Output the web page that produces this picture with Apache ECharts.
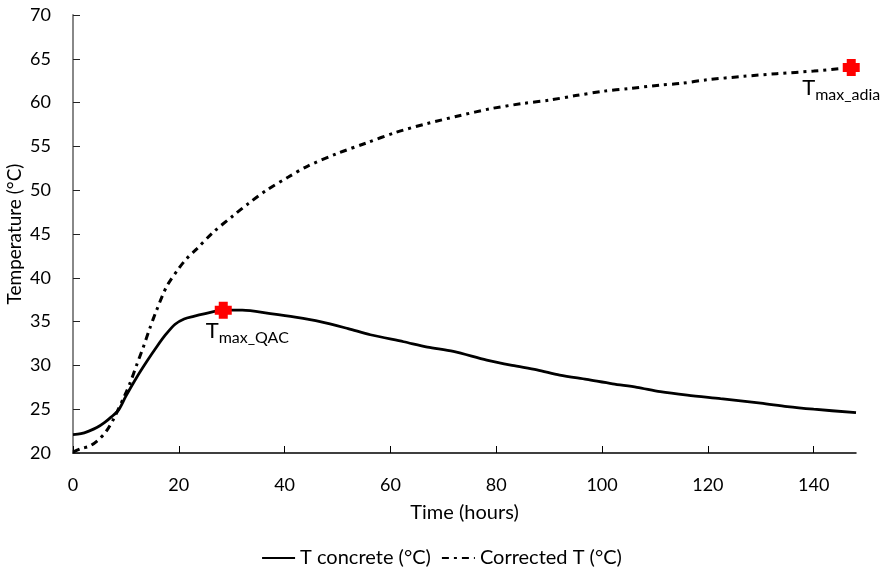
<!DOCTYPE html>
<html>
<head>
<meta charset="utf-8">
<script src="https://cdn.jsdelivr.net/npm/echarts@6/dist/echarts.min.js"></script>
<style>
  html, body { margin: 0; padding: 0; background: #fff; }
  #chart { width: 883px; height: 573px; }
</style>
</head>
<body>
<div id="chart"></div>
<script>
// Measured concrete temperature (hours, °C)
const concreteHours = [0, 1.5, 3, 4.5, 6, 7.2, 8.6, 10, 12, 14, 15.8, 17.5, 19.3, 21, 22.8, 25, 28.4, 32, 37.3, 42, 46.7, 52, 56.2, 62.5, 67, 71.9, 78.2, 83, 87.7, 92, 97.1, 102, 106.6, 111, 116.1, 122.4, 130, 135, 140, 148];
const concreteTemp  = [22.1, 22.2, 22.5, 22.9, 23.5, 24.1, 24.9, 26.5, 28.6, 30.5, 32.1, 33.5, 34.7, 35.3, 35.6, 35.9, 36.3, 36.3, 35.9, 35.5, 35.0, 34.2, 33.5, 32.7, 32.1, 31.6, 30.6, 30.0, 29.5, 28.9, 28.4, 27.9, 27.5, 27.0, 26.6, 26.2, 25.7, 25.3, 25.0, 24.6];

// Heat-loss corrected (adiabatic) temperature
const correctedHours = [0, 1.5, 3.2, 4.8, 6.2, 7.6, 9.8, 10.8, 12, 13.3, 14.5, 15.8, 17.7, 19.9, 21.5, 23.4, 26.5, 30.3, 33.2, 36.6, 40.7, 44.2, 50, 55.5, 61, 66.9, 73, 78.9, 85, 90.2, 95, 100.3, 105, 111, 115, 119.8, 126.8, 133, 140, 147.1];
const correctedTemp  = [20.1, 20.5, 20.8, 21.5, 22.4, 23.8, 26.6, 28.0, 30.0, 32.1, 34.2, 36.3, 39.0, 41.0, 42.2, 43.3, 45.2, 47.1, 48.5, 50.0, 51.5, 52.7, 54.2, 55.4, 56.6, 57.6, 58.5, 59.3, 59.9, 60.3, 60.8, 61.3, 61.6, 62.0, 62.2, 62.6, 63.0, 63.3, 63.6, 64.0];

// Peak markers
const peakNames = ['max_QAC', 'max_adia'];
const peakHours = [28.4, 147.1];
const peakTemp  = [36.3, 64.0];

const xTicks = [0, 20, 40, 60, 80, 100, 120, 140];
const seriesNames = ['T concrete (°C)', 'Corrected T (°C)'];

const FONT = 'Lato';
const pair = (xs, ys) => xs.map((x, i) => [x, ys[i]]);

const labelOffsets = [[24, 0], [-10, 0]];
const peakData = peakHours.map((h, i) => ({
  value: [h, peakTemp[i]],
  name: peakNames[i],
  label: { offset: labelOffsets[i] }
}));

const chart = echarts.init(document.getElementById('chart'), null, { renderer: 'canvas' });
chart.setOption({
  animation: false,
  backgroundColor: '#fff',
  textStyle: { fontFamily: FONT, color: '#000' },
  grid: { left: 73, right: 27, top: 15, bottom: 120, containLabel: false, outerBoundsMode: 'none' },
  legend: {
    top: 543,
    left: 'center',
    itemWidth: 33,
    itemHeight: 14,
    itemGap: 10,
    itemStyle: { opacity: 0 },
    textStyle: { fontFamily: FONT, fontSize: 20, color: '#000' },
    data: seriesNames
  },
  xAxis: {
    type: 'value',
    min: 0,
    max: 148,
    interval: 20,
    name: 'Time (hours)',
    nameLocation: 'middle',
    nameGap: 50,
    nameTextStyle: { fontFamily: FONT, fontSize: 20, color: '#000' },
    axisLine: { show: true, onZero: false, lineStyle: { color: '#000', width: 1.5 } },
    axisTick: { show: true, inside: true, length: 7, lineStyle: { color: '#000', width: 1 }, customValues: xTicks },
    axisLabel: { fontFamily: FONT, fontSize: 18, color: '#000', margin: 23, customValues: xTicks },
    splitLine: { show: false }
  },
  yAxis: {
    type: 'value',
    min: 20,
    max: 70,
    interval: 5,
    name: 'Temperature (°C)',
    nameLocation: 'middle',
    nameGap: 49,
    nameMoveOverlap: false,
    nameTextStyle: { fontFamily: FONT, fontSize: 19, color: '#000' },
    axisLine: { show: true, lineStyle: { color: '#888', width: 2 } },
    axisTick: { show: true, inside: true, length: 7, lineStyle: { color: '#222', width: 1 } },
    axisLabel: { fontFamily: FONT, fontSize: 18, color: '#000', margin: 22 },
    splitLine: { show: false }
  },
  series: [
    {
      name: seriesNames[0],
      type: 'line',
      data: pair(concreteHours, concreteTemp),
      smooth: 0.3,
      symbol: 'none',
      lineStyle: { color: '#000', width: 2.8 },
      itemStyle: { color: '#000' },
      z: 3
    },
    {
      name: seriesNames[1],
      type: 'line',
      data: pair(correctedHours, correctedTemp),
      smooth: 0.3,
      symbol: 'none',
      lineStyle: { color: '#000', width: 3, type: [7, 5, 3, 5], cap: 'butt' },
      itemStyle: { color: '#000' },
      z: 3
    },
    {
      name: 'peaks',
      type: 'scatter',
      data: peakData,
      symbol: 'path://M4,0H13V4H17V13H13V17H4V13H0V4H4Z',
      symbolSize: 17,
      itemStyle: { color: '#ff0000', opacity: 1 },
      z: 5,
      label: {
        show: true,
        position: 'bottom',
        distance: 5,
        formatter: p => '{t|T}{s|' + p.name + '}',
        rich: {
          t: { fontFamily: FONT, fontSize: 22, lineHeight: 22, color: '#000', padding: [0, 0, 4, 0], verticalAlign: 'bottom' },
          s: { fontFamily: FONT, fontSize: 16, lineHeight: 16, color: '#000', verticalAlign: 'bottom' }
        }
      }
    }
  ]
});
</script>
</body>
</html>
